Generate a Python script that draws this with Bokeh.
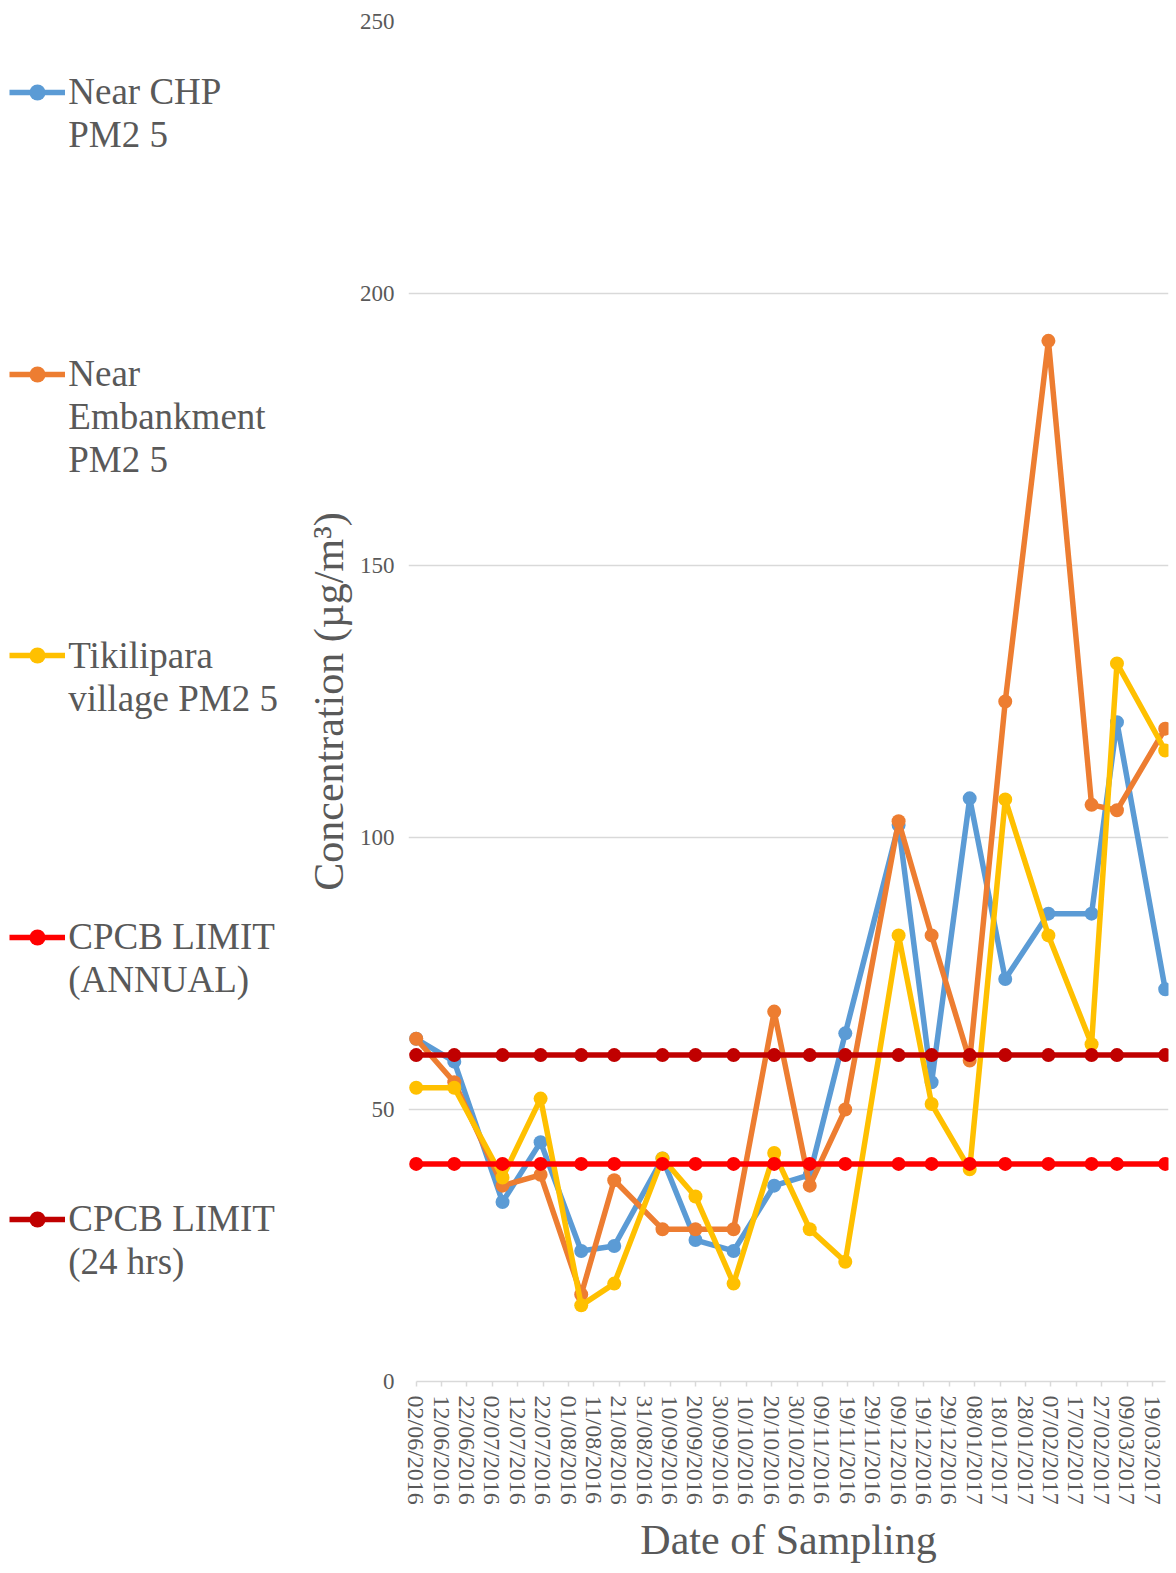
import pandas as pd
from datetime import timedelta
from bokeh.plotting import figure
from bokeh.layouts import row
from bokeh.models import (Range1d, FixedTicker, DatetimeTickFormatter, Legend,
                          LegendItem, ColumnDataSource)
from bokeh.embed import file_html
from bokeh.resources import INLINE

# ---------------- data ----------------
sampling_dates = ["02/06/2016", "17/06/2016", "06/07/2016", "21/07/2016", "06/08/2016",
                  "19/08/2016", "07/09/2016", "20/09/2016", "05/10/2016", "21/10/2016",
                  "04/11/2016", "18/11/2016", "09/12/2016", "22/12/2016", "06/01/2017",
                  "20/01/2017", "06/02/2017", "23/02/2017", "05/03/2017", "24/03/2017"]

near_chp = [63.0, 58.8, 33.0, 44.0, 24.0, 24.9, 41.0, 26.0, 24.0, 36.0,
            38.0, 64.0, 102.3, 55.0, 107.2, 74.0, 86.0, 86.0, 121.2, 72.1]
near_embankment = [63.0, 55.0, 36.0, 38.0, 16.0, 37.0, 28.0, 28.0, 28.0, 68.0,
                   36.0, 50.0, 103.0, 82.0, 59.0, 125.0, 191.3, 106.0, 105.0, 120.0]
tikilipara = [54.0, 54.0, 37.5, 52.0, 14.0, 18.0, 41.0, 34.0, 18.0, 42.0,
              28.0, 22.0, 82.0, 51.0, 39.0, 107.0, 82.0, 62.0, 132.0, 116.0]
cpcb_annual = [40, 40, 40, 40, 40, 40, 40, 40, 40, 40,
               40, 40, 40, 40, 40, 40, 40, 40, 40, 40]
cpcb_24h = [60, 60, 60, 60, 60, 60, 60, 60, 60, 60,
            60, 60, 60, 60, 60, 60, 60, 60, 60, 60]

series_labels = ["Near CHP\nPM2 5", "Near\nEmbankment\nPM2 5", "Tikilipara\nvillage PM2 5",
                 "CPCB LIMIT\n(ANNUAL)", "CPCB LIMIT\n(24 hrs)"]

tick_labels = ["02/06/2016", "12/06/2016", "22/06/2016", "02/07/2016", "12/07/2016",
               "22/07/2016", "01/08/2016", "11/08/2016", "21/08/2016", "31/08/2016",
               "10/09/2016", "20/09/2016", "30/09/2016", "10/10/2016", "20/10/2016",
               "30/10/2016", "09/11/2016", "19/11/2016", "29/11/2016", "09/12/2016",
               "19/12/2016", "29/12/2016", "08/01/2017", "18/01/2017", "28/01/2017",
               "07/02/2017", "17/02/2017", "27/02/2017", "09/03/2017", "19/03/2017"]
y_ticks = [0, 50, 100, 150, 200, 250]

# ---------------- styling ----------------
colors = ["#5B9BD5", "#ED7D31", "#FFC000", "#FF0000", "#C00000"]
TEXT = "#595959"
FONT = "Liberation Serif"
LW = 5.5
MS = 14

x = pd.to_datetime(sampling_dates, format="%d/%m/%Y")
xs = [t.to_pydatetime() for t in x]
ticks = pd.to_datetime(tick_labels, format="%d/%m/%Y")
tick_ms = [t.value / 1e6 for t in ticks]

TOTAL_W, H = 1176, 1573
LEG_W = 290
W = TOTAL_W - LEG_W
FRAME_LEFT = 408          # absolute page x of plot frame
LEFT = FRAME_LEFT - LEG_W
TOP, BOTTOM, RIGHT = 21, 192, 8

p = figure(width=W, height=H, x_axis_type="datetime",
           x_range=Range1d(xs[0] - timedelta(days=3.03), xs[-1] + timedelta(days=1.3)),
           y_range=Range1d(0, 250),
           output_backend="svg", toolbar_location=None,
           min_border_left=LEFT, min_border_right=RIGHT, min_border_top=TOP,
           min_border_bottom=BOTTOM, outline_line_color=None,
           background_fill_color="white", border_fill_color="white")

series = [near_chp, near_embankment, tikilipara, cpcb_annual, cpcb_24h]
sources = []
for vals, col in zip(series, colors):
    src = ColumnDataSource(dict(x=xs, y=vals))
    sources.append(src)
    p.line("x", "y", source=src, line_color=col, line_width=LW, line_join="round")
    p.scatter("x", "y", source=src, size=MS, fill_color=col, line_color=None)

# axes
xa = p.xaxis[0]
xa.ticker = FixedTicker(ticks=tick_ms)
fmt = "%d/%m/%Y"
xa.formatter = DatetimeTickFormatter(days=fmt, months=fmt, years=fmt, hours=fmt,
                                     minutes=fmt, hourmin=fmt, seconds=fmt)
xa.bounds = (xs[0], xs[-1])
xa.major_label_orientation = "vertical"
xa.axis_line_color = "#D9D9D9"
xa.axis_line_width = 1.5
xa.major_tick_line_color = "#D9D9D9"
xa.major_tick_line_width = 1.5
xa.major_tick_out = 5
xa.major_tick_in = 0
xa.minor_tick_line_color = None
xa.major_label_standoff = 9
xa.major_label_text_font = FONT
xa.major_label_text_font_size = "24px"
xa.major_label_text_color = TEXT
xa.axis_label = "Date of Sampling"
xa.axis_label_text_font = FONT
xa.axis_label_text_font_size = "42px"
xa.axis_label_text_font_style = "normal"
xa.axis_label_text_color = TEXT
xa.axis_label_standoff = 9

ya = p.yaxis[0]
ya.ticker = FixedTicker(ticks=y_ticks)
ya.axis_line_color = None
ya.major_tick_line_color = None
ya.minor_tick_line_color = None
ya.major_tick_out = 0
ya.major_tick_in = 0
ya.major_label_standoff = 14
ya.major_label_text_font = FONT
ya.major_label_text_font_size = "23px"
ya.major_label_text_color = TEXT
ya.axis_label = "Concentration (µg/m³)"
ya.axis_label_text_font = FONT
ya.axis_label_text_font_size = "42px"
ya.axis_label_text_font_style = "normal"
ya.axis_label_text_color = TEXT
ya.axis_label_standoff = 5

p.xgrid.grid_line_color = None
p.ygrid.grid_line_color = "#D9D9D9"
p.ygrid.grid_line_width = 1.3

# ---------------- legend panel (left) ----------------
# same series are attached here but fall outside this panel's ranges,
# so only their legend glyphs are visible
lp = figure(width=LEG_W, height=H, x_range=Range1d(0, 1), y_range=Range1d(0, 1),
            output_backend="svg", toolbar_location=None,
            x_axis_location=None, y_axis_location=None,
            min_border_left=0, min_border_right=0, min_border_top=0, min_border_bottom=0,
            outline_line_color=None, background_fill_color="white",
            border_fill_color="white")
lp.xgrid.visible = False
lp.ygrid.visible = False

LINE_H = 37 * 1.17
OFFSET = 158.7
glyph_centers = [91, 372.7, 654.4, 936, 1217.8]
for src, col, lab, gy in zip(sources, colors, series_labels, glyph_centers):
    ln = lp.line("x", "y", source=src, line_color=col, line_width=LW)
    sc = lp.scatter("x", "y", source=src, size=13, fill_color=col, line_color=None)
    n_real = lab.count("\n") + 1
    k = n_real - 1                      # blank lines above keep glyph on first line
    text = "\n" * k + lab
    n = n_real + k
    baseline = gy + 12
    vy = H - OFFSET - LINE_H * n + LINE_H * k - baseline
    lg = Legend(items=[LegendItem(label=text, renderers=[ln, sc])],
                location=(9.3, vy),
                border_line_color=None, background_fill_alpha=0,
                padding=0, margin=0, spacing=0,
                glyph_width=56, glyph_height=40, label_standoff=3,
                label_text_font=FONT, label_text_font_size="37px",
                label_text_color=TEXT, label_text_line_height=1.17)
    lp.add_layout(lg)

layout = row(lp, p, spacing=0)
open("out.html", "w").write(file_html(layout, INLINE))
